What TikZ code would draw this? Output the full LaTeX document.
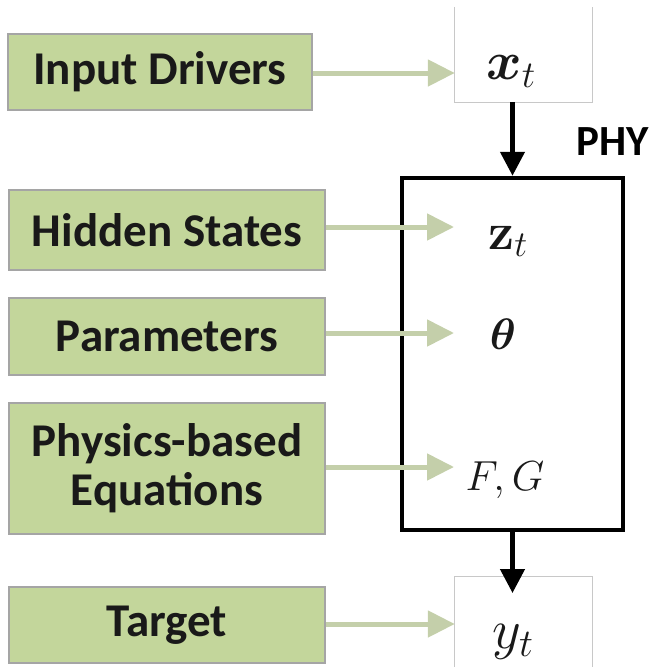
\RequirePackage{fix-cm}
\documentclass[tikz,border=0pt]{standalone}
\usepackage{amsmath,bm}
\usepackage[no-math]{fontspec}
\setmainfont{Carlito}
\usetikzlibrary{arrows.meta}
\definecolor{boxgreen}{RGB}{195,214,155}
\definecolor{boxedge}{RGB}{165,165,165}
\definecolor{arrgreen}{RGB}{196,207,170}
\definecolor{thinedge}{RGB}{200,200,200}
\definecolor{textdark}{RGB}{25,25,25}
\begin{document}
\begin{tikzpicture}[x=1pt,y=-1pt,
  gbox/.style={draw=boxedge, line width=1.2pt, fill=boxgreen, text=textdark,
    font=\fontsize{47}{49}\selectfont\bfseries, align=center, inner sep=0pt},
  garrow/.style={draw=arrgreen, line width=5pt, -{Triangle[length=27pt,width=26pt]}},
  karrow/.style={draw=black, line width=4.5pt, -{Triangle[length=24pt,width=24pt]}},
  mlab/.style={inner sep=0pt, anchor=base, text=textdark},
  thinbox/.style={draw=none, inner sep=0pt},
  thinline/.style={draw=thinedge, line width=1.3pt},
]
\useasboundingbox (0,0) rectangle (650,667);

% green boxes
\node[gbox, minimum width=304pt, minimum height=76pt] (inp) at (160,72) {Input Drivers};
\node[gbox, minimum width=316pt, minimum height=80pt] (hid) at (167,230) {Hidden States};
\node[gbox, minimum width=316pt, minimum height=77pt] (par) at (167,336.5) {Parameters};
\node[gbox, minimum width=316pt, minimum height=131pt] (eqn) at (167,468.5) {Physics-based\\Equations};
\node[gbox, minimum width=316pt, minimum height=76pt] (tgt) at (167,625) {Target};

% input / output boxes (open at the picture edge)
\node[thinbox, minimum width=137pt, minimum height=95pt] (xbox) at (523.5,54.5) {};
\node[thinbox, minimum width=137pt, minimum height=90pt] (ybox) at (523.5,622) {};
\draw[thinline] (xbox.north west) -- (xbox.south west) -- (xbox.south east) -- (xbox.north east);
\draw[thinline] (ybox.south west) -- (ybox.north west) -- (ybox.north east) -- (ybox.south east);

% physics model box
\node[draw=black, line width=4.5pt, minimum width=221pt, minimum height=352pt, inner sep=0pt] (phy) at (512.5,354) {};
\node[inner sep=0pt, anchor=base west, text=black, font=\fontsize{43}{45}\selectfont\bfseries] (phylab) at (576,155) {PHY};

% math labels
\node[mlab, font=\fontsize{54}{60}\selectfont] (xt) at (511,79) {$\boldsymbol{x}_t$};
\node[mlab, font=\fontsize{52}{60}\selectfont] (zt) at (508,249) {$\mathbf{z}_t$};
\node[mlab, font=\fontsize{44}{50}\selectfont] (th) at (503,349) {$\boldsymbol{\theta}$};
\node[mlab, font=\fontsize{42}{50}\selectfont] (fg) at (505,490) {$F,G$};
\node[mlab, font=\fontsize{56}{60}\selectfont] (yt) at (513,648) {$y_t$};

% black arrows
\coordinate (ytip) at (512.5,593);
\draw[karrow] (phy.north |- xbox.south) -- (phy.north);
\draw[karrow] (phy.south) -- (ytip);

% green arrows
\coordinate (tipx) at (454,0);
\draw[garrow] (inp.east |- 0,73) -- (xbox.west |- 0,73);
\draw[garrow] (hid.east |- 0,227) -- (tipx |- 0,227);
\draw[garrow] (par.east |- 0,333) -- (tipx |- 0,333);
\draw[garrow] (eqn.east |- 0,467) -- (tipx |- 0,467);
\draw[garrow] (tgt.east |- 0,624) -- (xbox.west |- 0,624);
\end{tikzpicture}
\end{document}
